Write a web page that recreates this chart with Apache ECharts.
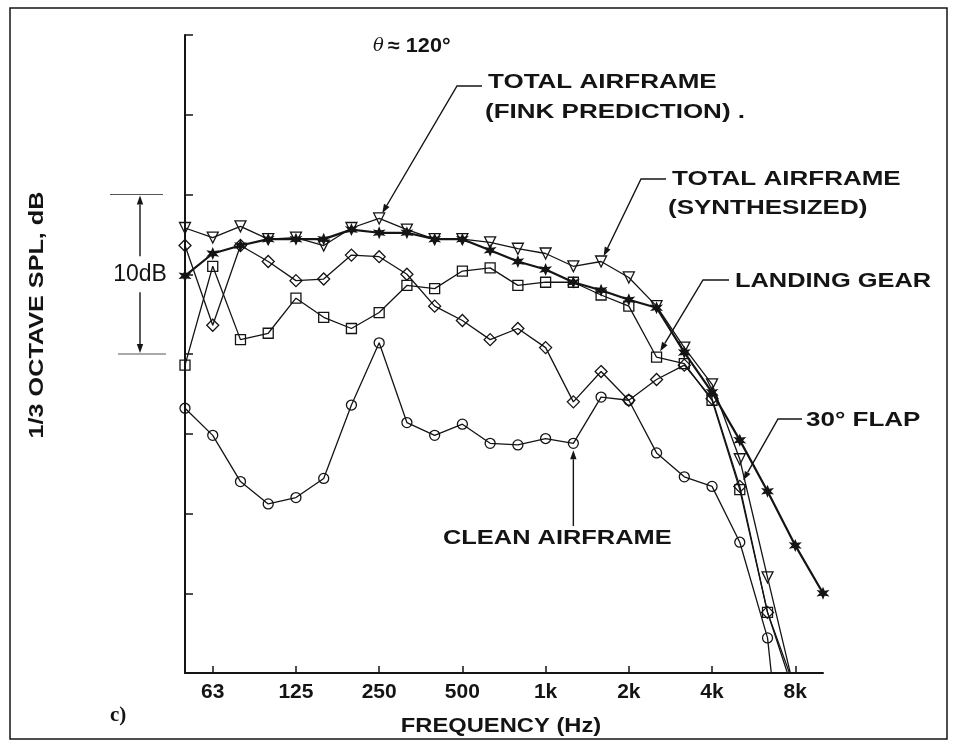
<!DOCTYPE html>
<html>
<head>
<meta charset="utf-8">
<title>Airframe noise spectra, theta = 120 deg</title>
<script src="https://cdn.jsdelivr.net/npm/echarts@6/dist/echarts.min.js"></script>
<style>
  html, body { margin: 0; padding: 0; background: #fff; }
  #chart { width: 956px; height: 746px; }
</style>
</head>
<body>
<div id="chart"></div>
<script>
// One-third octave band centre frequencies (Hz)
const bands = ['50','63','80','100','125','160','200','250','315','400','500','630','800','1k','1.25k','1.6k','2k','2.5k','3.15k','4k','5k','6.3k','8k','10k'];
// Octave bands that carry a tick and a label
const octaveLabels = ['63','125','250','500','1k','2k','4k','8k'];

// Relative 1/3-octave SPL (dB). Values below 0 run off the bottom of the plot.
const finkPrediction = [24.9, 26.3, 26.8, 27.2, 27.2, 27.2, 27.8, 27.6, 27.6, 27.2, 27.2, 26.5, 25.8, 25.3, 24.5, 24.0, 23.4, 22.9, 20.1, 17.6, 14.6, 11.4, 8.0, 5.0];
const synthesized    = [27.9, 27.3, 28.0, 27.2, 27.3, 26.8, 27.9, 28.5, 27.8, 27.2, 27.2, 27.0, 26.6, 26.3, 25.5, 25.8, 24.8, 23.0, 20.4, 18.1, 13.4, 6.0, -1.3, null];
const landingGear    = [19.3, 25.5, 20.9, 21.3, 23.5, 22.3, 21.6, 22.6, 24.3, 24.1, 25.2, 25.4, 24.3, 24.5, 24.5, 23.7, 23.0, 19.8, 19.4, 17.1, 11.5, 3.8, -1.0, null];
const flap30         = [26.8, 21.8, 26.8, 25.8, 24.6, 24.7, 26.2, 26.1, 25.0, 23.0, 22.1, 20.9, 21.6, 20.4, 17.0, 18.9, 17.1, 18.4, 19.3, 17.2, 11.7, 3.8, -1.5, null];
const cleanAirframe  = [16.6, 14.9, 12.0, 10.6, 11.0, 12.2, 16.8, 20.7, 15.7, 14.9, 15.6, 14.4, 14.3, 14.7, 14.4, 17.3, 17.1, 13.8, 12.3, 11.7, 8.2, 2.2, -14.0, null];

const ink = '#141414';
const sans = '"Liberation Sans", Arial, Helvetica, sans-serif';
const starPath = 'path://M10,0 L12.25,6.1 L18.66,5 L14.5,10 L18.66,15 L12.25,13.9 L10,20 L7.75,13.9 L1.34,15 L5.5,10 L1.34,5 L7.75,6.1 Z';

function curve(name, data, symbol, size, extra) {
  return Object.assign({
    name, type: 'line', data, symbol, symbolSize: size,
    showAllSymbol: true, connectNulls: false, clip: true, silent: true,
    lineStyle: { color: ink, width: 1.3 },
    itemStyle: { color: 'rgba(255,255,255,0)', borderColor: ink, borderWidth: 1.3 },
    emphasis: { disabled: true },
    z: 3
  }, extra || {});
}

const chart = echarts.init(document.getElementById('chart'), null, { renderer: 'canvas' });

const option = {
  animation: false,
  backgroundColor: '#fff',
  grid: { left: 185, right: 133, top: 35, bottom: 73, containLabel: false },
  xAxis: {
    type: 'category',
    data: bands,
    boundaryGap: false,
    axisLine: { lineStyle: { color: ink, width: 2 } },
    axisTick: {
      inside: true, length: 7,
      interval: (i, v) => octaveLabels.includes(v),
      lineStyle: { color: ink, width: 1.5 }
    },
    axisLabel: {
      interval: (i, v) => octaveLabels.includes(v),
      color: ink, fontFamily: sans, fontWeight: 'bold', fontSize: 21, margin: 9
    },
    splitLine: { show: false }
  },
  yAxis: {
    type: 'value',
    min: 0, max: 40, interval: 5,
    axisLine: { show: true, lineStyle: { color: ink, width: 2 } },
    axisTick: { show: true, inside: true, length: 8, lineStyle: { color: ink, width: 1.5 } },
    axisLabel: { show: false },
    splitLine: { show: false }
  },
  series: [
    curve('Clean airframe', cleanAirframe, 'circle', 10),
    curve('30 deg flap', flap30, 'diamond', 12),
    curve('Landing gear', landingGear, 'rect', 10),
    curve('Total airframe (synthesized)', synthesized, 'triangle', 11, { symbolRotate: 180 }),
    curve('Total airframe (Fink prediction)', finkPrediction, starPath, 13, {
      lineStyle: { color: ink, width: 2.2 },
      itemStyle: { color: ink, borderWidth: 0 }
    })
  ]
};
chart.setOption(option);

// ---- annotations ----
const px = (band, value) => chart.convertToPixel({ gridIndex: 0 }, [band, value]);

function leader(points, tip, back) {
  const prev = points[points.length - 1];
  const dx = tip[0] - prev[0], dy = tip[1] - prev[1];
  const len = Math.hypot(dx, dy);
  const ux = dx / len, uy = dy / len;
  const end = [tip[0] - ux * back, tip[1] - uy * back];
  const head = 9, hw = 3.2;
  const base = [end[0] - ux * head, end[1] - uy * head];
  return [
    { type: 'polyline', shape: { points: points.concat([base]) },
      style: { stroke: ink, lineWidth: 1.4, fill: null }, z: 10 },
    { type: 'polygon', shape: { points: [end, [base[0] - uy * hw, base[1] + ux * hw], [base[0] + uy * hw, base[1] - ux * hw]] },
      style: { fill: ink }, z: 10 }
  ];
}

function label(text, x, y, o) {
  o = o || {};
  return {
    type: 'text', x, y, scaleX: o.sx || 1, rotation: o.rot || 0, z: 10,
    style: {
      text, x: 0, y: 0,
      fontFamily: o.family || sans, fontSize: o.size || 20, fontWeight: o.weight || 'bold',
      fontStyle: o.style || 'normal',
      fill: ink, align: o.align || 'left', verticalAlign: 'middle'
    }
  };
}

const g = [];
// outer frame
g.push({ type: 'rect', shape: { x: 10, y: 8, width: 937, height: 731 }, style: { fill: null, stroke: ink, lineWidth: 1.5 }, z: 1 });

// heading
g.push(label('\u03b8', 373, 46, { size: 18, weight: 'normal', style: 'italic', family: '"DejaVu Serif", serif' }));
g.push(label('\u2248 120\u00b0', 388, 46, { size: 20, sx: 1.08 }));

// curve labels
const capScale = 1.3;
g.push(label('TOTAL AIRFRAME', 488, 82, { sx: capScale }));
g.push(label('(FINK PREDICTION) .', 485, 112, { sx: capScale }));
g.push(label('TOTAL AIRFRAME', 672, 179, { sx: capScale }));
g.push(label('(SYNTHESIZED)', 668, 208, { sx: capScale }));
g.push(label('LANDING GEAR', 735, 281, { sx: 1.27 }));
g.push(label('30\u00b0 FLAP', 806, 420, { sx: capScale }));
g.push(label('CLEAN AIRFRAME', 443, 538, { sx: 1.27 }));

// leader lines anchored on data points
g.push(...leader([[482, 86], [457, 86]], px(7, synthesized[7]), 6));
g.push(...leader([[666, 179], [641, 179]], px(15, synthesized[15]), 6));
g.push(...leader([[729, 280], [703, 280]], px(17, landingGear[17]), 7));
g.push(...leader([[802, 419], [778, 419]], px(20, flap30[20]), 7));
const cleanTip = px(14, cleanAirframe[14]);
g.push(...leader([[cleanTip[0], 526]], cleanTip, 7));

// axis titles
g.push(label('FREQUENCY (Hz)', 501, 726, { sx: 1.13, align: 'center', size: 21 }));
g.push(label('1/3 OCTAVE SPL, dB', 37, 315, { sx: 1.2, align: 'center', size: 21, rot: Math.PI / 2 }));
g.push(label('c)', 110, 716, { family: '"Liberation Serif", "Times New Roman", serif', size: 21 }));

// 10 dB scale bracket
const y30 = px(0, 30)[1], y20 = px(0, 20)[1];
const ym = (y30 + y20) / 2;
g.push({ type: 'line', shape: { x1: 110, y1: y30, x2: 163, y2: y30 }, style: { stroke: '#555', lineWidth: 1 } });
g.push({ type: 'line', shape: { x1: 118, y1: y20, x2: 166, y2: y20 }, style: { stroke: '#555', lineWidth: 1 } });
g.push(...leader([[140, ym - 18]], [140, y30], 1));
g.push(...leader([[140, ym + 18]], [140, y20], 1));
g.push(label('10dB', 140, ym, { weight: 'normal', size: 23, align: 'center' }));

chart.setOption({ graphic: g });
</script>
</body>
</html>
